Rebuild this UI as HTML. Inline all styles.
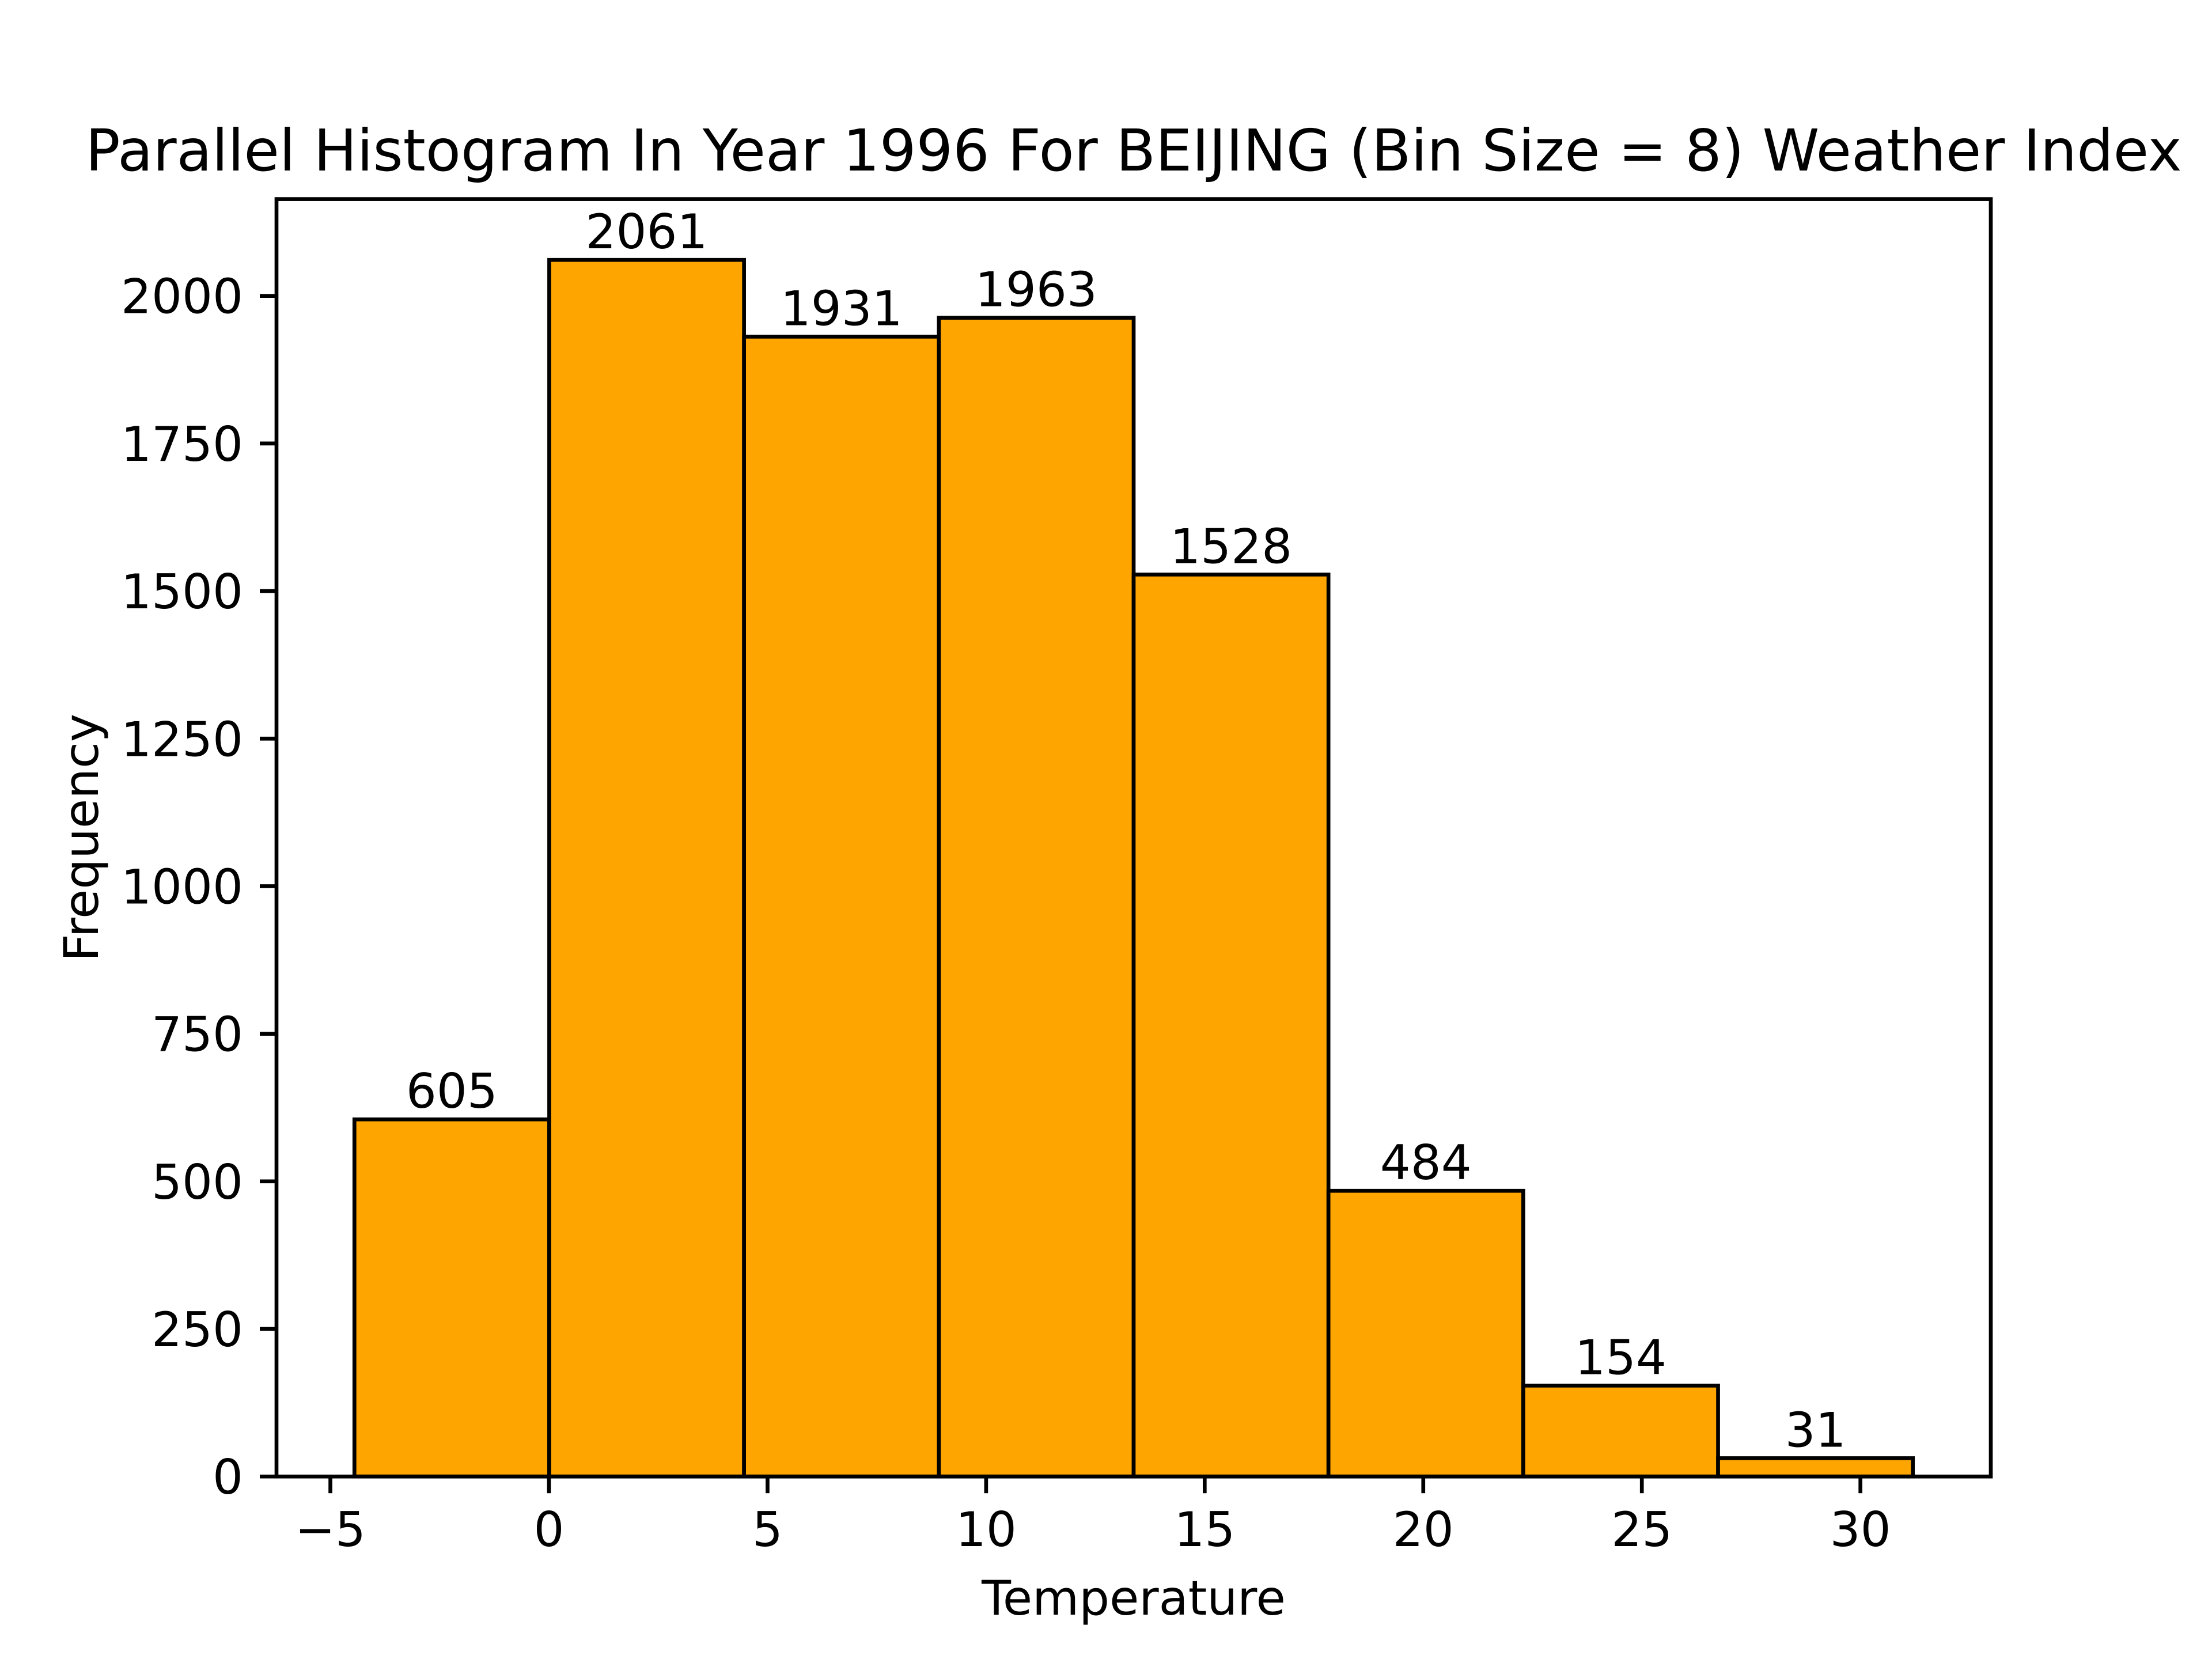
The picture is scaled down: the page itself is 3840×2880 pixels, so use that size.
<!DOCTYPE html>
<html><head><meta charset="utf-8"><style>
html,body{margin:0;padding:0;background:#fff;}
svg{display:block;font-family:"DejaVu Sans","Liberation Sans",sans-serif;}
</style></head><body>
<svg id="chart" width="3840" height="2880" viewBox="0 0 3840 2880" xmlns="http://www.w3.org/2000/svg">
<rect x="0" y="0" width="3840" height="2880" fill="#fff"/>
<g id="bars"></g>
<g id="labels"></g>
<g id="xticks"></g>
<g id="yticks"></g>
<rect x="480" y="345.6" width="2976" height="2217.6" fill="none" stroke="#000" stroke-width="6.67"/>
<text x="1968" y="296" font-size="100" text-anchor="middle">Parallel Histogram In Year 1996 For BEIJING (Bin Size = 8) Weather Index</text>
<text x="1968" y="2803" font-size="83.3" text-anchor="middle">Temperature</text>
<text x="170" y="1454" font-size="83.3" text-anchor="middle" transform="rotate(-90 170 1454)">Frequency</text>
</svg>
<script>
const counts = [605, 2061, 1931, 1963, 1528, 484, 154, 31];
const dataMin = -4.45;
const dataMax = 31.2;
const xTicks = [-5, 0, 5, 10, 15, 20, 25, 30];
const xTickLabels = ["\u22125", "0", "5", "10", "15", "20", "25", "30"];
const yTicks = [0, 250, 500, 750, 1000, 1250, 1500, 1750, 2000];

const NS = "http://www.w3.org/2000/svg";
const L = 480, R = 3456, T = 345.6, B = 2563.2;
const span = dataMax - dataMin;
const x0 = dataMin - span * 0.05, x1 = dataMax + span * 0.05;
const yMax = Math.max(...counts) * 1.05;
const sx = v => L + (v - x0) / (x1 - x0) * (R - L);
const sy = v => B - v / yMax * (B - T);
function mk(tag, attrs, parent) {
  const e = document.createElementNS(NS, tag);
  for (const k in attrs) e.setAttribute(k, attrs[k]);
  parent.appendChild(e);
  return e;
}
const gb = document.getElementById('bars'), gl = document.getElementById('labels');
const gx = document.getElementById('xticks'), gy = document.getElementById('yticks');
const w = span / counts.length;
counts.forEach((c, i) => {
  const a = dataMin + i * w, b = a + w;
  const r = mk('rect', {x: sx(a), y: sy(c), width: sx(b) - sx(a), height: B - sy(c), fill: '#ffa500', stroke: '#000', 'stroke-width': 6.67}, gb);
  
  
  const t = mk('text', {x: (sx(a) + sx(b)) / 2, y: sy(c) - 20, 'font-size': 83.3, 'text-anchor': 'middle'}, gl);
  t.textContent = c;
  
  
});
xTicks.forEach((v, i) => {
  const X = sx(v);
  const l = mk('line', {x1: X, x2: X, y1: B, y2: B + 29, stroke: '#000', 'stroke-width': 6.67}, gx);
  
  
  const t = mk('text', {x: X, y: B + 29 + 29 + 63, 'font-size': 83.3, 'text-anchor': 'middle'}, gx);
  t.textContent = xTickLabels[i];
  
  
});
yTicks.forEach(v => {
  const Y = sy(v);
  const l = mk('line', {x1: L - 29, x2: L, y1: Y, y2: Y, stroke: '#000', 'stroke-width': 6.67}, gy);
  
  
  const t = mk('text', {x: L - 58, y: Y + 30, 'font-size': 83.3, 'text-anchor': 'end'}, gy);
  t.textContent = v;
  
  
});
</script>
</body></html>
